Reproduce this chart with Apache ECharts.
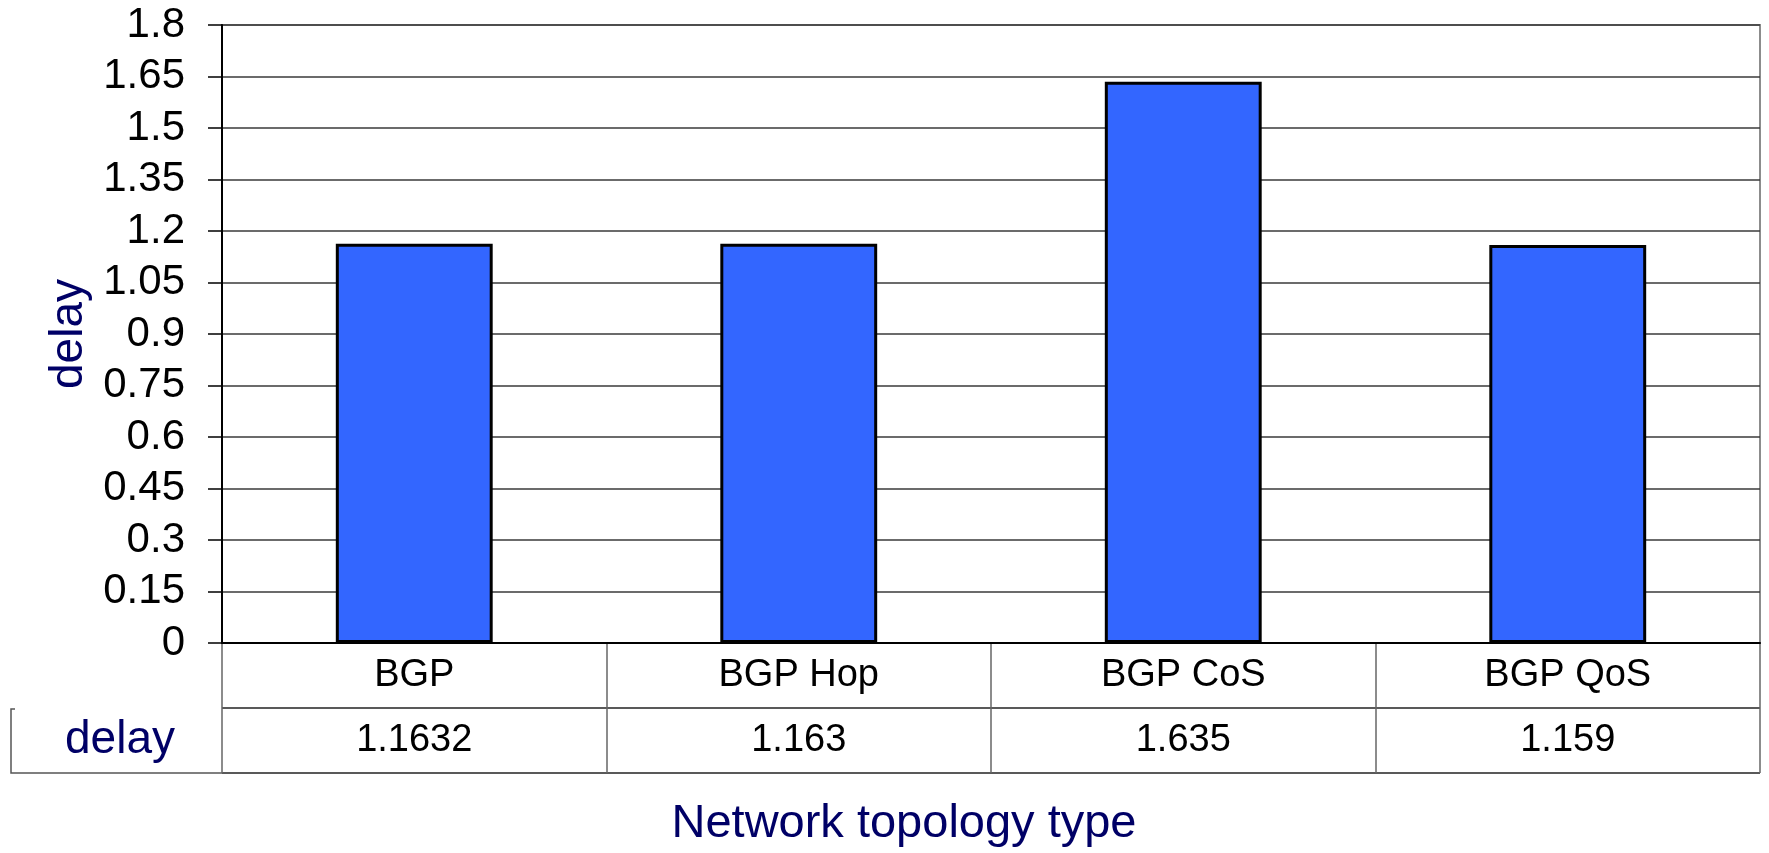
<!DOCTYPE html>
<html>
<head>
<meta charset="utf-8">
<title>delay</title>
<script src="https://cdn.jsdelivr.net/npm/echarts@6/dist/echarts.min.js"></script>
<style>
  html, body { margin: 0; padding: 0; background: #fff; }
  #chart { width: 1769px; height: 853px; }
</style>
</head>
<body>
<div id="chart"></div>
<script>
// topology types and their measured delay
var categories = ['BGP', 'BGP Hop', 'BGP CoS', 'BGP QoS']
var delayValues = [1.1632, 1.163, 1.635, 1.159]
var seriesName = 'delay'
var xTitle = 'Network topology type'
// y axis range
var yMin = 0
var yMax = 1.8
var yStep = 0.15
// data table rows (bottom row = values, top row = names)
var tableRows = ['delay', '']

var FONT = "'Liberation Sans', Arial, sans-serif"
var NAVY = '#000066'

var chart = echarts.init(document.getElementById('chart'))

chart.setOption({
  animation: false,
  backgroundColor: '#fff',
  grid: [
    { left: 222, top: 25, width: 1538, height: 618, show: true, borderColor: '#8c8c8c', borderWidth: 2 },
    { left: 222, top: 643, width: 1538, height: 130 }
  ],
  xAxis: [
    {
      gridIndex: 0,
      type: 'category',
      data: categories,
      axisLine: { lineStyle: { color: '#000', width: 2 } },
      axisTick: { show: false },
      axisLabel: { show: false }
    },
    {
      gridIndex: 1,
      type: 'category',
      data: categories,
      axisLine: { show: false },
      axisTick: { show: false },
      axisLabel: { show: false },
      splitLine: { show: true, lineStyle: { color: '#666', width: 1.5 } }
    }
  ],
  yAxis: [
    {
      gridIndex: 0,
      type: 'value',
      min: yMin,
      max: yMax,
      interval: yStep,
      name: seriesName,
      nameLocation: 'middle',
      nameGap: 125,
      nameRotate: 90,
      nameTextStyle: { color: NAVY, fontSize: 46, fontFamily: FONT },
      axisLine: { show: true, lineStyle: { color: '#000', width: 2 } },
      axisTick: { show: true, length: 14, lineStyle: { color: '#000', width: 1.5 } },
      axisLabel: { margin: 37, color: '#000', fontSize: 42, fontFamily: FONT },
      splitLine: { lineStyle: { color: '#3a3a3a', width: 1.5 } }
    },
    {
      gridIndex: 1,
      type: 'category',
      data: tableRows,
      axisLine: { show: false },
      axisTick: { show: false },
      axisLabel: { margin: 47, color: NAVY, fontSize: 46, fontFamily: FONT },
      splitLine: { show: true, lineStyle: { color: '#222', width: 1.5 } }
    }
  ],
  graphic: [
    {
      // left box round the row title
      type: 'polyline',
      shape: { points: [[15, 709], [11, 709], [11, 773], [222, 773]] },
      style: { stroke: '#555', lineWidth: 1.5, fill: null }
    },
    {
      type: 'text',
      style: {
        x: 904, y: 824, text: xTitle,
        align: 'center', verticalAlign: 'middle',
        fill: NAVY, font: '47px ' + FONT
      }
    }
  ],
  series: [
    {
      type: 'bar',
      name: seriesName,
      xAxisIndex: 0,
      yAxisIndex: 0,
      data: delayValues,
      barWidth: '40.8%',
      itemStyle: { color: '#3366FF', borderColor: '#000', borderWidth: 3 }
    },
    {
      // table cells: names on top row, values on bottom row
      type: 'scatter',
      xAxisIndex: 1,
      yAxisIndex: 1,
      symbolSize: 1,
      itemStyle: { color: 'transparent', opacity: 1 },
      label: {
        show: true, position: 'inside', formatter: '{b}',
        color: '#000', opacity: 1, textBorderWidth: 0,
        fontSize: 38, fontFamily: FONT
      },
      data: categories.map(function(c, i) {
        return { name: c, value: [i, 1] }
      }).concat(delayValues.map(function(v, i) {
        return { name: String(v), value: [i, 0] }
      }))
    }
  ]
})
</script>
</body>
</html>
